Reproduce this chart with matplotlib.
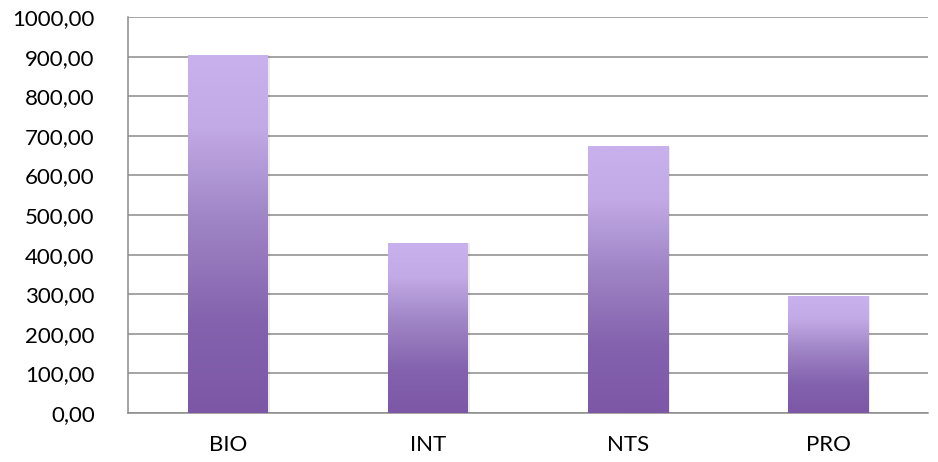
import numpy as np
import matplotlib.pyplot as plt
from matplotlib.colors import LinearSegmentedColormap

plt.rcParams['font.family'] = ['Lato', 'DejaVu Sans']

categories = ["BIO", "INT", "NTS", "PRO"]
values = [904, 429, 672, 295]
yticks = [0, 100, 200, 300, 400, 500, 600, 700, 800, 900, 1000]

# light top, dark bottom
cmap = LinearSegmentedColormap.from_list(
    "purp", [(0.0, "#7c57a6"), (0.25, "#8462ae"), (0.55, "#a086c6"), (0.8, "#c2aae6"), (1.0, "#c8b1ec")])

fig = plt.figure(figsize=(9.38, 4.62), dpi=100)
ax = fig.add_axes([128 / 938, 49 / 462, 800 / 938, 396 / 462])

x = np.arange(len(categories))
w = 0.4
grad = np.linspace(0, 1, 256).reshape(-1, 1)

for xi, v in zip(x, values):
    # faint shadow on the right
    ax.bar(xi + 0.012, v, width=w, color="#000000", alpha=0.08, zorder=2)
    ax.imshow(grad, cmap=cmap, origin="lower", aspect="auto",
              extent=[xi - w / 2, xi + w / 2, 0, v], zorder=3)

ax.set_xlim(-0.5, len(categories) - 0.5)
ax.set_ylim(0, 1000)
ax.set_yticks(yticks)
ax.set_yticklabels([f"{t},00" for t in yticks])
ax.set_xticks(x)
ax.set_xticklabels(categories)
ax.yaxis.grid(True, color="#8c8c8c", linewidth=1.1)
ax.set_axisbelow(True)
ax.tick_params(axis="both", length=0, labelsize=16, colors="black")
ax.tick_params(axis="y", pad=24)
ax.tick_params(axis="x", pad=16)
for s in ["top", "right"]:
    ax.spines[s].set_visible(False)
ax.spines["left"].set_color("#8c8c8c")
ax.spines["bottom"].set_color("#8c8c8c")
ax.spines["left"].set_linewidth(1.1)
ax.spines["bottom"].set_linewidth(1.1)

fig.savefig("out.png", dpi=100)
